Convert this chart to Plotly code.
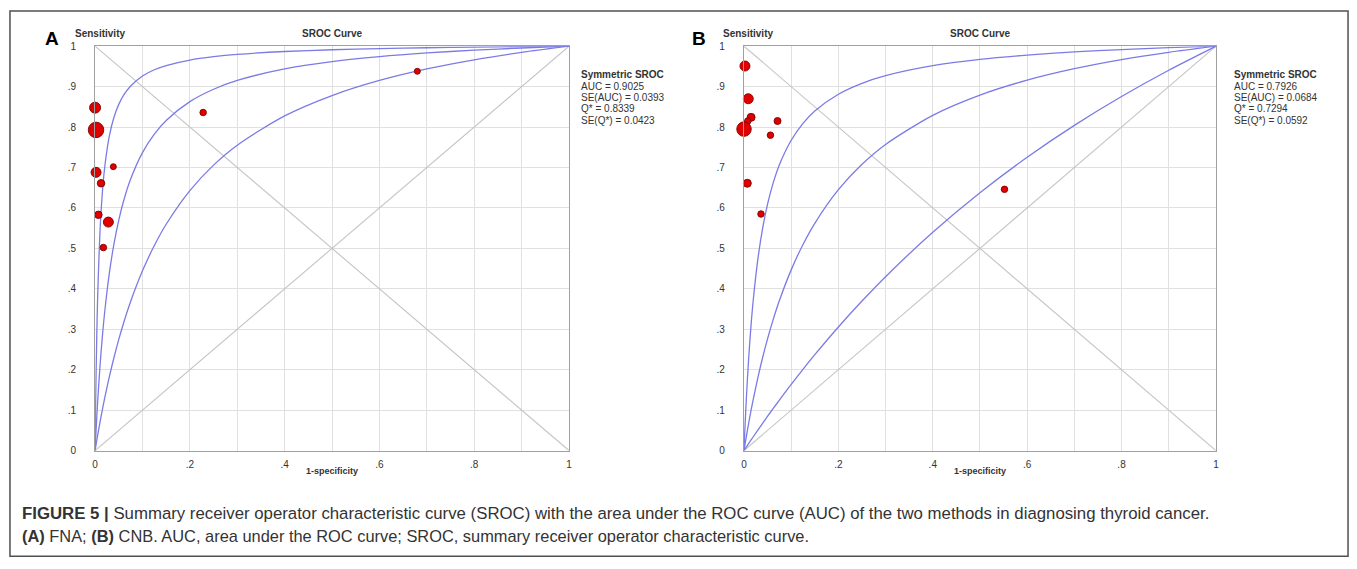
import plotly.graph_objects as go

W, H = 1357, 569

# ---------------- data ----------------
# Panel A (FNA) study points
a_fpr = [0.000, 0.002, 0.0385, 0.002, 0.0126, 0.007, 0.028, 0.0175, 0.228, 0.680]
a_sens = [0.848, 0.793, 0.702, 0.688, 0.661, 0.583, 0.565, 0.502, 0.836, 0.938]
a_weight = [11, 15.5, 6, 10, 7.5, 7.5, 10, 6.5, 6.5, 6]

# Panel B (CNB) study points
b_fpr = [0.002, 0.009, 0.015, 0.008, 0.000, 0.071, 0.056, 0.007, 0.036, 0.552]
b_sens = [0.951, 0.870, 0.824, 0.815, 0.795, 0.815, 0.780, 0.661, 0.585, 0.646]
b_weight = [10, 10, 8, 6.5, 14.5, 7, 6.5, 8, 6.5, 6.5]

# SROC curves (1-specificity positions and sensitivities)
curve_fpr = [0, 0.001, 0.002, 0.005, 0.01, 0.015, 0.02, 0.03, 0.04, 0.05, 0.06, 0.075,
             0.1, 0.125, 0.15, 0.2, 0.25, 0.3, 0.4, 0.5, 0.6, 0.7, 0.8, 0.9, 1.0]
a_curve_upper = [0, 0.1016, 0.1846, 0.3622, 0.533, 0.6325, 0.6975, 0.7775, 0.8248, 0.8561,
                 0.8782, 0.9016, 0.9262, 0.9417, 0.9522, 0.9658, 0.9741, 0.9798, 0.9869,
                 0.9912, 0.9941, 0.9962, 0.9978, 0.9990, 1.0]
a_curve_mid = [0, 0.0246, 0.0481, 0.1124, 0.2029, 0.2773, 0.3396, 0.438, 0.5122, 0.5701,
               0.6166, 0.6714, 0.7368, 0.7826, 0.8164, 0.863, 0.8936, 0.9153, 0.9438,
               0.9618, 0.9742, 0.9833, 0.9902, 0.9956, 1.0]
a_curve_lower = [0, 0.0072, 0.0142, 0.0349, 0.0678, 0.0988, 0.1281, 0.1821, 0.2308, 0.2748,
                 0.3149, 0.3686, 0.4444, 0.507, 0.5596, 0.6429, 0.7059, 0.7552, 0.8276,
                 0.878, 0.9153, 0.9438, 0.9664, 0.9848, 1.0]
b_curve_upper = [0, 0.0289, 0.0562, 0.1299, 0.2308, 0.3114, 0.3774, 0.4788, 0.5531, 0.6099,
                 0.6547, 0.7066, 0.7674, 0.8093, 0.8398, 0.8813, 0.9083, 0.9272, 0.9519,
                 0.9674, 0.978, 0.9858, 0.9917, 0.9963, 1.0]
b_curve_mid = [0, 0.0072, 0.0144, 0.0353, 0.0684, 0.0997, 0.1292, 0.1836, 0.2325, 0.2767,
               0.317, 0.3709, 0.4468, 0.5095, 0.562, 0.6451, 0.7079, 0.757, 0.829,
               0.8791, 0.916, 0.9443, 0.9668, 0.9849, 1.0]
b_curve_lower = [0, 0.0018, 0.0035, 0.0088, 0.0175, 0.0261, 0.0347, 0.0516, 0.0683, 0.0848,
                 0.101, 0.1249, 0.1636, 0.2009, 0.237, 0.3056, 0.3697, 0.43, 0.5399,
                 0.6377, 0.7253, 0.8042, 0.8756, 0.9406, 1.0]

# reference diagonals
diag_x = [0, 1]
diag_up = [0, 1]
diag_down = [1, 0]

tick_vals = [0, 0.1, 0.2, 0.3, 0.4, 0.5, 0.6, 0.7, 0.8, 0.9, 1.0]
y_tick_text = ["0", ".1", ".2", ".3", ".4", ".5", ".6", ".7", ".8", ".9", "1"]
x_tick_text = ["0", "", ".2", "", ".4", "", ".6", "", ".8", "", "1"]

a_stats = ["<b>Symmetric SROC</b>", "AUC = 0.9025", "SE(AUC) = 0.0393", "Q* = 0.8339", "SE(Q*) = 0.0423"]
b_stats = ["<b>Symmetric SROC</b>", "AUC = 0.7926", "SE(AUC) = 0.0684", "Q* = 0.7294", "SE(Q*) = 0.0592"]

caption_1 = ("<b>FIGURE 5 |</b> Summary receiver operator characteristic curve (SROC) with the area "
             "under the ROC curve (AUC) of the two methods in diagnosing thyroid cancer.")
caption_2 = ("<b>(A)</b> FNA; <b>(B)</b> CNB. AUC, area under the ROC curve; SROC, summary receiver "
             "operator characteristic curve.")

# ---------------- styling / layout ----------------
FONT = "Liberation Sans, Arial, sans-serif"
CURVE_COLOR = "#7b7be6"
DIAG_COLOR = "#c4c4c4"
GRID_COLOR = "#e0e0e0"
FRAME_COLOR = "#a0a0a0"


def px(x):
    return x / W


def py(y):
    return 1 - y / H


panels = [
    dict(xa="x", ya="y", dom=(92.5, 568.5), fpr=a_fpr, sens=a_sens, w=a_weight,
         curves=[a_curve_upper, a_curve_mid, a_curve_lower], stats=a_stats,
         letter="A", letter_x=49, sens_x=70, stats_x=579),
    dict(xa="x2", ya="y2", dom=(744.3, 1218.3), fpr=b_fpr, sens=b_sens, w=b_weight,
         curves=[b_curve_upper, b_curve_mid, b_curve_lower], stats=b_stats,
         letter="B", letter_x=699, sens_x=721, stats_x=1234.5),
]

fig = go.Figure()
annotations = []
shapes = []

for p in panels:
    for yd in (diag_up, diag_down):
        fig.add_trace(go.Scatter(x=diag_x, y=yd, mode="lines", xaxis=p["xa"], yaxis=p["ya"],
                                 line=dict(color=DIAG_COLOR, width=1.1), hoverinfo="skip",
                                 showlegend=False))
    for c in p["curves"]:
        fig.add_trace(go.Scatter(x=curve_fpr, y=c, mode="lines", xaxis=p["xa"], yaxis=p["ya"],
                                 line=dict(color=CURVE_COLOR, width=1.3, shape="spline", smoothing=0.8),
                                 showlegend=False))
    fig.add_trace(go.Scatter(x=p["fpr"], y=p["sens"], mode="markers", xaxis=p["xa"], yaxis=p["ya"],
                             marker=dict(size=p["w"], color="#e00000", opacity=1,
                                         line=dict(color="#7a0000", width=0.9)),
                             cliponaxis=False, showlegend=False))

    cx = (p["dom"][0] + p["dom"][1]) / 2
    annotations += [
        dict(x=px(p["letter_x"]), y=py(33), xref="paper", yref="paper", text="<b>%s</b>" % p["letter"],
             showarrow=False, font=dict(family=FONT, size=19, color="#000"), xanchor="center", yanchor="middle"),
        dict(x=px(p["sens_x"]), y=py(28), xref="paper", yref="paper", text="<b>Sensitivity</b>",
             showarrow=False, font=dict(family=FONT, size=10, color="#333"), xanchor="left", yanchor="middle"),
        dict(x=px(cx), y=py(28), xref="paper", yref="paper", text="<b>SROC Curve</b>",
             showarrow=False, font=dict(family=FONT, size=10, color="#333"), xanchor="center", yanchor="middle"),
        dict(x=px(cx), y=py(474), xref="paper", yref="paper", text="<b>1-specificity</b>",
             showarrow=False, font=dict(family=FONT, size=9, color="#333"), xanchor="center", yanchor="middle"),
    ]
    for i, line in enumerate(p["stats"]):
        annotations.append(dict(x=px(p["stats_x"]), y=py(70 + i * 11.6), xref="paper", yref="paper",
                                text=line, showarrow=False,
                                font=dict(family=FONT, size=10, color="#333"),
                                xanchor="left", yanchor="middle"))

annotations += [
    dict(x=px(17), y=py(517), xref="paper", yref="paper", text=caption_1, showarrow=False,
         font=dict(family=FONT, size=16.8, color="#333"), xanchor="left", yanchor="middle"),
    dict(x=px(17), y=py(540), xref="paper", yref="paper", text=caption_2, showarrow=False,
         font=dict(family=FONT, size=16.4, color="#333"), xanchor="left", yanchor="middle"),
]

shapes.append(dict(type="rect", xref="paper", yref="paper", x0=px(7), x1=px(1351), y0=py(561), y1=py(5),
                   line=dict(color="#505050", width=1.5), fillcolor="rgba(0,0,0,0)"))

axis_common = dict(range=[0, 1], tickvals=tick_vals, showgrid=True, gridcolor=GRID_COLOR, gridwidth=1,
                   showline=True, linecolor=FRAME_COLOR, linewidth=1.2, mirror=True, zeroline=False,
                   ticks="", tickfont=dict(family=FONT, size=10, color="#333"), fixedrange=True)

ydom = [py(453.3), py(41)]
fig.update_layout(
    width=W, height=H, autosize=False,
    margin=dict(l=0, r=0, t=0, b=0),
    paper_bgcolor="white", plot_bgcolor="white",
    showlegend=False,
    xaxis=dict(domain=[px(92.5), px(568.5)], ticktext=x_tick_text, anchor="y",
               ticklabelstandoff=4, **axis_common),
    yaxis=dict(domain=ydom, ticktext=y_tick_text, anchor="x", ticklabelstandoff=16, **axis_common),
    xaxis2=dict(domain=[px(744.3), px(1218.3)], ticktext=x_tick_text, anchor="y2",
                ticklabelstandoff=4, **axis_common),
    yaxis2=dict(domain=ydom, ticktext=y_tick_text, anchor="x2", ticklabelstandoff=16, **axis_common),
    annotations=annotations,
    shapes=shapes,
)

fig.write_html("out.html", config={"displayModeBar": False},
               post_script="document.body.style.margin='0px';")
